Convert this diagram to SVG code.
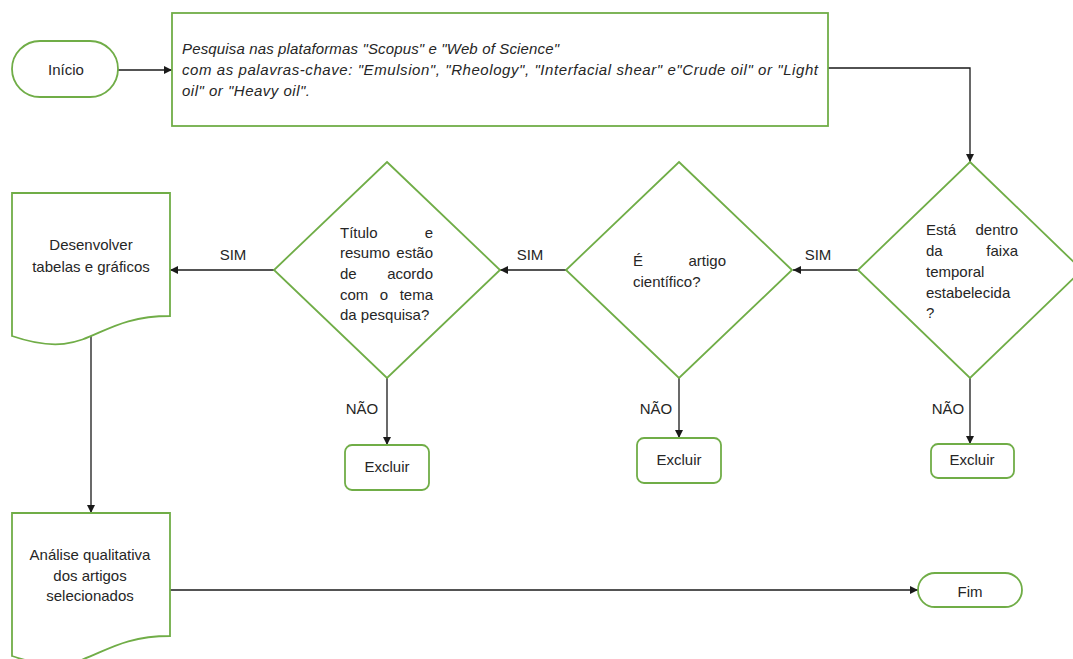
<svg xmlns="http://www.w3.org/2000/svg" width="1073" height="659" viewBox="0 0 1073 659">
<style>
.shape{fill:#fff;stroke:#70AD47;stroke-width:1.8}
.t{font-family:"Liberation Sans",Arial,sans-serif;font-size:15px;fill:#262626}
.c{text-anchor:middle}
.e{text-anchor:end}
.i{font-style:italic}
.con{fill:none;stroke:#1a1a1a;stroke-width:1.3}
.lbl{font-family:"Liberation Sans",Arial,sans-serif;font-size:15px;fill:#262626;text-anchor:middle}
</style>
<defs>
<marker id="ah" viewBox="0 0 10 10" refX="10" refY="5" markerWidth="8" markerHeight="8" markerUnits="userSpaceOnUse" orient="auto">
<path d="M0,0 L10,5 L0,10 z" fill="#1a1a1a"/>
</marker>
</defs>
<rect width="1073" height="659" fill="#fff"/>

<g id="connectors">
<path class="con" d="M118,70 H172" marker-end="url(#ah)"/>
<path class="con" d="M828,68 H970 V162" marker-end="url(#ah)"/>
<path class="con" d="M858,270 H793" marker-end="url(#ah)"/>
<path class="con" d="M566,270 H500" marker-end="url(#ah)"/>
<path class="con" d="M274,270 H170" marker-end="url(#ah)"/>
<path class="con" d="M91,333 V513" marker-end="url(#ah)"/>
<path class="con" d="M170,590 H918" marker-end="url(#ah)"/>
<path class="con" d="M387,378 V445" marker-end="url(#ah)"/>
<path class="con" d="M679,378 V438" marker-end="url(#ah)"/>
<path class="con" d="M970,378 V444" marker-end="url(#ah)"/>
<text class="lbl" x="818" y="260">SIM</text>
<text class="lbl" x="530" y="260">SIM</text>
<text class="lbl" x="233" y="260">SIM</text>
<text class="lbl" x="362" y="414">NÃO</text>
<text class="lbl" x="656" y="414">NÃO</text>
<text class="lbl" x="948" y="414">NÃO</text>
</g>

<g id="inicio">
<rect class="shape" x="12" y="41" width="106" height="56" rx="28"/>
<text class="t c" x="66" y="75">Início</text>
</g>

<g id="pesquisa">
<rect class="shape" x="172" y="13" width="656" height="113"/>
<text class="t i" x="182" y="54" textLength="377" lengthAdjust="spacing">Pesquisa nas plataformas "Scopus" e "Web of Science"</text>
<text class="t i" x="182" y="75" textLength="636" lengthAdjust="spacing">com as palavras-chave: "Emulsion", "Rheology", "Interfacial shear" e"Crude oil" or "Light</text>
<text class="t i" x="182" y="96" textLength="128" lengthAdjust="spacing">oil" or "Heavy oil".</text>
</g>

<g id="faixa">
<polygon class="shape" points="970,162 1082,270 970,378 858,270"/>
<text class="t" x="926" y="235">Está</text><text class="t e" x="1018" y="235">dentro</text>
<text class="t" x="926" y="256">da</text><text class="t e" x="1018" y="256">faixa</text>
<text class="t" x="926" y="277">temporal</text>
<text class="t" x="926" y="298">estabelecida</text>
<text class="t" x="926" y="318">?</text>
</g>

<g id="artigo">
<polygon class="shape" points="679,162 792,270 679,378 566,270"/>
<text class="t" x="633" y="266">É</text><text class="t e" x="726" y="266">artigo</text>
<text class="t" x="633" y="287">científico?</text>
</g>

<g id="titulo">
<polygon class="shape" points="387,162 500,270 387,378 274,270"/>
<text class="t" x="340" y="238">Título</text><text class="t e" x="433" y="238">e</text>
<text class="t" x="340" y="258">resumo</text><text class="t e" x="433" y="258">estão</text>
<text class="t" x="340" y="279">de</text><text class="t e" x="433" y="279">acordo</text>
<text class="t" x="340" y="300">com</text><text class="t c" x="384" y="300">o</text><text class="t e" x="433" y="300">tema</text>
<text class="t" x="340" y="320">da pesquisa?</text>
</g>

<g id="desenvolver">
<path class="shape" d="M12,193 H170 V316 C91,316 91,363 12,336 Z"/>
<text class="t c" x="91" y="250">Desenvolver</text>
<text class="t c" x="91" y="272">tabelas e gráficos</text>
</g>

<g id="analise">
<path class="shape" d="M12,513 H170 V636 C91,636 91,683 12,656 Z"/>
<text class="t c" x="90" y="560">Análise qualitativa</text>
<text class="t c" x="90" y="581">dos artigos</text>
<text class="t c" x="90" y="601">selecionados</text>
</g>

<g id="excluir1">
<rect class="shape" x="345" y="445" width="84" height="45" rx="7"/>
<text class="t c" x="387" y="472">Excluir</text>
</g>
<g id="excluir2">
<rect class="shape" x="637" y="438" width="84" height="45" rx="7"/>
<text class="t c" x="679" y="465">Excluir</text>
</g>
<g id="excluir3">
<rect class="shape" x="931" y="444" width="83" height="34" rx="7"/>
<text class="t c" x="972" y="465">Excluir</text>
</g>

<g id="fim">
<rect class="shape" x="918" y="573" width="104" height="34" rx="17"/>
<text class="t c" x="970" y="597">Fim</text>
</g>
</svg>
